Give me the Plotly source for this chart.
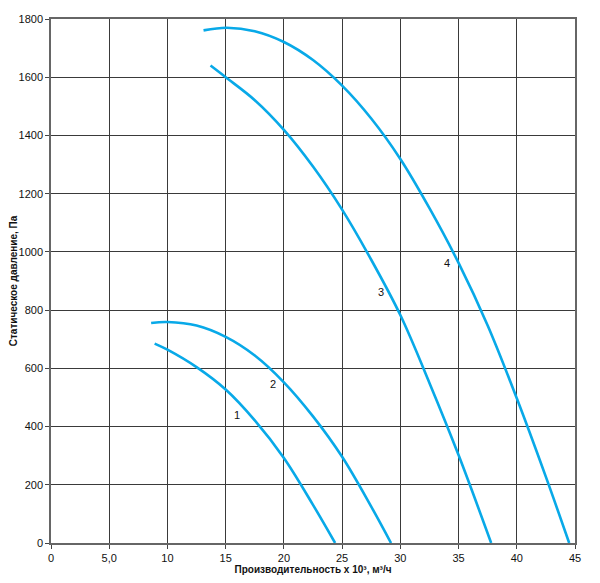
import plotly.graph_objects as go

# fan curves (flow x 10^3 m3/h, static pressure Pa)
c1_x = [8.9, 10, 12.5, 15, 17.5, 20, 22.5, 24.4]
c1_y = [685, 664, 604, 527, 421, 292, 131, 0]

c2_x = [8.6, 10, 12.5, 15, 17.5, 20, 22.5, 25, 27.5, 29.2]
c2_y = [756, 759, 747, 708, 644, 552, 435, 296, 125, 0]

c3_x = [13.7, 15, 17.5, 20, 22.5, 25, 27.5, 30, 32.5, 35, 37.8]
c3_y = [1640, 1600, 1521, 1419, 1293, 1145, 973, 783, 550, 302, 0]

c4_x = [13.1, 15.1, 17.5, 20, 22.5, 25, 27.5, 30, 32.5, 35, 37.5, 40, 42.5, 44.5]
c4_y = [1761, 1770, 1758, 1721, 1659, 1571, 1458, 1319, 1150, 962, 747, 497, 227, 0]

# curve number labels
lbl_text = ["1", "2", "3", "4"]
lbl_x = [16.0, 19.1, 28.3, 34.05]
lbl_y = [441, 547, 863, 962]

x_ticks = [0, 5, 10, 15, 20, 25, 30, 35, 40, 45]
x_ticktext = ["0", "5,0", "10", "15", "20", "25", "30", "35", "40", "45"]

blue = "#08A9E8"

fig = go.Figure()
for xs, ys in [(c1_x, c1_y), (c2_x, c2_y), (c3_x, c3_y), (c4_x, c4_y)]:
    fig.add_trace(go.Scatter(x=xs, y=ys, mode="lines",
                             line=dict(color=blue, width=2.6, shape="spline", smoothing=1.0),
                             showlegend=False, hoverinfo="skip"))

for t, x, y in zip(lbl_text, lbl_x, lbl_y):
    fig.add_annotation(x=x, y=y, text=t, showarrow=False,
                       font=dict(size=11, color="#111"))

# page body has an 8px margin, so the figure is a bit smaller than the window
fig.update_layout(
    width=584, height=567,
    margin=dict(l=43, r=17, t=11, b=32),
    plot_bgcolor="white", paper_bgcolor="white",
    font=dict(family="Liberation Sans, Arial, sans-serif", size=11, color="#111"),
)
fig.update_xaxes(range=[0, 45], tickvals=x_ticks, ticktext=x_ticktext,
                 showgrid=True, gridcolor="#3a3a3a", gridwidth=1,
                 showline=True, linecolor="#666", linewidth=1.5, mirror=True,
                 ticks="outside", ticklen=4, tickcolor="#444", zeroline=False,
                 automargin=False,
                 title=dict(text="<b>Производительность х 10³, м³/ч</b>",
                            font=dict(size=10), standoff=0))
fig.update_yaxes(range=[0, 1800], dtick=200,
                 showgrid=True, gridcolor="#3a3a3a", gridwidth=1,
                 showline=True, linecolor="#666", linewidth=1.5, mirror=True,
                 ticks="outside", ticklen=4, tickcolor="#444", zeroline=False,
                 automargin=False,
                 title=dict(text="<b>Статическое давление, Па</b>",
                            font=dict(size=10), standoff=2))

fig.write_html("out.html")
